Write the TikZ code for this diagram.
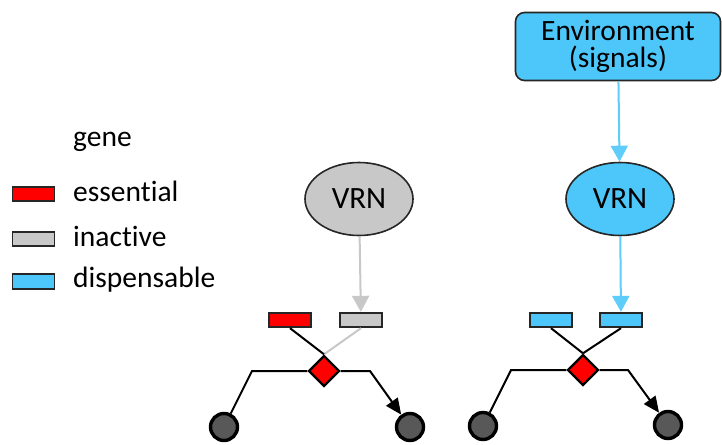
\documentclass[tikz,border=0pt]{standalone}
\usepackage{fontspec}
\setmainfont{Carlito}[Ligatures=NoCommon]
\usetikzlibrary{arrows.meta,shapes.geometric}
\definecolor{ess}{RGB}{255,0,0}
\definecolor{ina}{RGB}{200,200,200}
\definecolor{dis}{RGB}{77,199,250}
\definecolor{cellgrey}{RGB}{88,88,88}
\begin{document}
\begin{tikzpicture}[x=1pt,y=-1pt,
  gene/.style={draw=black!85, line width=1.8pt, minimum width=42pt, minimum height=14.5pt, inner sep=0pt},
  vrn/.style={ellipse, draw=black!85, line width=1.6pt, minimum width=108pt, minimum height=73pt, inner sep=0pt, font=\fontsize{31}{32}\selectfont},
  gate/.style={diamond, draw=black, fill=ess, line width=2.4pt, minimum width=31pt, minimum height=31pt, inner sep=0pt},
  cell/.style={circle, draw=black, fill=cellgrey, line width=3.4pt, minimum size=27pt, inner sep=0pt},
  wire/.style={line width=2pt, black},
  lab/.style={font=\fontsize{29.5}{30}\selectfont, anchor=base west, inner sep=0pt},
  blueflow/.style={draw=dis!90!white, line width=2pt, -{Triangle[width=17pt,length=16pt]}},
  greyflow/.style={draw=ina, line width=2pt, -{Triangle[width=17pt,length=16pt]}},
  outarrow/.style={wire, -{Triangle[width=14pt,length=16pt]}}
]
\useasboundingbox (0,0) rectangle (722,444);

% legend
\node[lab] (lgene) at (73,146) {gene};
\node[gene, fill=ess] (kess) at (33.5,194) {};
\node[gene, fill=ina] (kina) at (33.5,239) {};
\node[gene, fill=dis] (kdis) at (33.5,281.5) {};
\node[lab] (tess) at (73,201) {essential};
\node[lab] (tina) at (73,246) {inactive};
\node[lab] (tdis) at (73,287) {dispensable};

% environment
\node[draw=black!85, fill=dis, line width=1.6pt, rounded corners=9pt,
      minimum width=205pt, minimum height=68pt, align=center,
      font=\fontsize{29.5}{27.5}\selectfont] (env) at (618,46.5) {Environment\\(signals)};

% left network (VRN inactive)
\node[vrn, fill=ina] (vrnA) at (359,199) {VRN};
\node[gene, fill=ess] (gA1) at (290,320) {};
\node[gene, fill=ina] (gA2) at (361,320) {};
\node[gate] (dA) at (324,371) {};
\node[cell] (cA1) at (224,427) {};
\node[cell] (cA2) at (410,427) {};
\coordinate (bA1) at (252,371);
\coordinate (bA2) at (370,371);
\draw[greyflow] (vrnA) -- (gA2);
\draw[wire, draw=ina] (gA2.south) -- (dA.north);
\draw[wire] (gA1.south) -- (dA.north);
\draw[wire] (dA.west) -- (bA1) -- (cA1);
\draw[outarrow] (dA.east) -- (bA2) -- (cA2);

% right network (VRN driven by environment)
\node[vrn, fill=dis] (vrnB) at (620,199) {VRN};
\node[gene, fill=dis] (gB1) at (551,320) {};
\node[gene, fill=dis] (gB2) at (621,320) {};
\node[gate] (dB) at (583,370) {};
\node[cell] (cB1) at (483,426) {};
\node[cell] (cB2) at (668,425) {};
\coordinate (bB1) at (511,370);
\coordinate (bB2) at (628,370);
\draw[blueflow] (env) -- (vrnB);
\draw[blueflow] (vrnB) -- (gB2);
\draw[wire] (gB1.south) -- (dB.north);
\draw[wire] (gB2.south) -- (dB.north);
\draw[wire] (dB.west) -- (bB1) -- (cB1);
\draw[outarrow] (dB.east) -- (bB2) -- (cB2);
\end{tikzpicture}
\end{document}
